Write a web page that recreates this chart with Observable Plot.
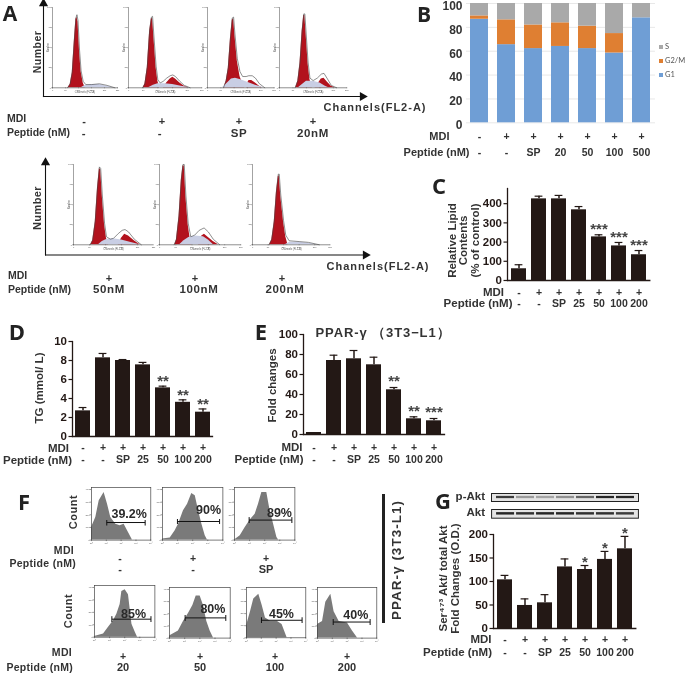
<!DOCTYPE html>
<html><head><meta charset="utf-8">
<script src="https://cdn.jsdelivr.net/npm/d3@7"></script>
<script src="https://cdn.jsdelivr.net/npm/@observablehq/plot@0.6"></script>
<style>
html,body{margin:0;padding:0;background:#fff}
#root{position:relative;width:685px;height:673px;overflow:hidden;background:#fff;font-family:"Liberation Sans",Arial,sans-serif;color:#231f20;filter:blur(0.3px)}
#root svg{position:absolute;background:transparent}
.lb{position:absolute;white-space:pre;font-weight:bold;line-height:1}
</style></head><body><div id="root"></div>
<script>
// ---------- Panel B: stacked cell-cycle percentages
const cycleG1 = [86.8, 65.5, 62.2, 64, 62.2, 58.5, 88];
const cycleG2M = [2.8, 20.8, 19.8, 19.8, 18.8, 16.3, 0];
const cycleS = [10.4, 13.7, 18, 16.2, 19, 25.2, 12];
const cycleMdi = ["-", "+", "+", "+", "+", "+", "+"];
const cyclePep = ["-", "-", "SP", "20", "50", "100", "500"];
// ---------- Panels C, D, E, G
const mdiRow = ["-", "+", "+", "+", "+", "+", "+"];
const pepRow = ["-", "-", "SP", "25", "50", "100", "200"];
const lipid = [61, 425, 425, 368, 227, 180, 134];
const lipidErr = [82, 439, 443, 385, 238, 198, 156];
const lipidStars = ["", "", "", "", "***", "***", "***"];
const tg = [2.7, 8.28, 8.0, 7.54, 5.12, 3.6, 2.56];
const tgErr = [3.05, 8.74, 8.1, 7.8, 5.3, 3.86, 2.9];
const tgStars = ["", "", "", "", "**", "**", "**"];
const fold = [2, 74, 75.7, 69.7, 44.7, 15.7, 13.7];
const foldErr = [2, 79.3, 84, 77.3, 47, 17.7, 16];
const foldStars = ["", "", "", "", "**", "**", "***"];
const akt = [103.5, 49, 54.6, 131, 125.5, 147, 169.5];
const aktErr = [113, 63, 72, 148, 134, 164, 196];
const aktStars = ["", "", "", "", "*", "*", "*"];
const pAktBand = [0.8, 0.35, 0.3, 0.4, 0.6, 0.9, 0.9];
const aktBand = [0.9, 0.85, 0.9, 0.9, 0.85, 0.85, 0.8];
// ---------- Panel A: DNA histograms, [channel, count]
const a1G1=[[60,0],[68,4],[76,18],[84,58],[90,85],[94,88],[98,82],[104,45],[110,20],[118,6],[126,0]];
const a1S=[[110,0],[125,3],[150,4],[180,4],[210,2],[235,0]];
const a1G2=[];
const a1All=[[58,0],[68,5],[76,20],[84,60],[90,87],[94,91],[98,84],[104,47],[110,21],[118,8],[128,4],[150,4],[180,5],[210,3],[240,0]];
const a2G1=[[50,0],[56,5],[64,25],[72,70],[78,86],[82,86],[87,60],[94,25],[100,8],[106,0]];
const a2S=[[68,0],[85,3],[100,5],[125,5],[150,4],[180,2],[210,0]];
const a2G2=[[119,0],[130,6],[142,11],[151,13],[160,11],[175,6],[190,2],[205,0]];
const a2All=[[48,0],[56,5],[64,26],[72,72],[78,88],[82,89],[87,62],[94,27],[100,10],[108,6],[118,8],[130,12],[142,15],[151,16],[160,14],[175,8],[190,3],[210,0]];
const a3G1=[[62,0],[70,8],[78,24],[86,60],[93,84],[98,86],[103,65],[112,33],[122,14],[132,5],[140,0]];
const a3S=[[56,0],[72,5],[90,11],[105,12],[125,10],[150,7],[180,3],[212,0]];
const a3G2=[[146,3],[156,9],[166,9],[180,6],[195,2],[205,0]];
const a3All=[[60,0],[70,9],[78,25],[86,62],[93,87],[98,88],[103,67],[112,36],[122,20],[132,14],[145,14],[155,15],[168,15],[180,12],[195,5],[215,0]];
const a4G1=[[60,0],[68,8],[76,30],[84,70],[90,90],[94,90],[99,65],[106,30],[113,10],[122,0]];
const a4S=[[70,0],[85,4],[100,8],[125,8],[150,6],[170,2],[183,0]];
const a4G2=[[132,0],[145,6],[155,11],[165,12],[178,7],[192,2],[207,0]];
const a4All=[[58,0],[68,9],[76,32],[84,72],[90,92],[94,92],[99,67],[106,32],[113,12],[125,9],[140,12],[155,17],[165,18],[178,11],[192,3],[212,0]];
const a5G1=[[54,0],[60,5],[68,28],[75,70],[81,95],[85,93],[90,60],[97,25],[103,8],[110,0]];
const a5S=[[78,0],[90,4],[105,7],[125,7.5],[150,6],[180,3],[208,0]];
const a5G2=[[140,0],[150,8],[160,13],[172,11],[190,5],[208,0]];
const a5All=[[52,0],[60,6],[68,30],[75,72],[81,97],[85,95],[90,62],[97,27],[103,10],[115,7],[125,8],[140,14],[152,18],[161,19],[172,16],[190,7],[212,0]];
const a6G1=[[47,0],[52,6],[60,35],[67,80],[72,98],[76,98],[81,60],[88,25],[94,8],[100,0]];
const a6S=[[62,0],[75,5],[90,9],[110,11],[135,10],[150,6],[166,0]];
const a6G2=[[120,2],[130,11],[138,13],[150,9],[165,4],[181,0]];
const a6All=[[45,0],[52,7],[60,37],[67,82],[72,100],[76,100],[81,62],[88,27],[96,10],[108,12],[122,18],[137,21],[150,16],[165,7],[185,0]];
const a7G1=[[55,0],[62,6],[70,28],[77,65],[83,85],[86,86],[91,60],[100,28],[107,10],[114,0]];
const a7S=[[105,0],[120,3],[150,3],[180,2],[210,0]];
const a7G2=[];
const a7All=[[53,0],[62,7],[70,30],[77,67],[83,88],[86,88],[91,62],[100,30],[107,12],[118,5],[150,4],[180,3],[215,0]];
// ---------- Panel F: flow cytometry, [log decade, count]
const f1=[[0,100],[.29,179],[.52,311],[.85,376],[1.08,284],[1.3,179],[1.64,126],[1.93,113],[2.2,126],[2.43,74],[2.76,0]];
const f2=[[0,8],[.51,16],[.84,74],[1.06,126],[1.39,232],[1.66,284],[1.94,368],[2.17,350],[2.39,232],[2.61,126],[2.83,34],[2.98,0]];
const f3=[[0,0],[.38,34],[.71,100],[1.04,158],[1.37,205],[1.59,284],[1.81,376],[2.14,376],[2.36,232],[2.59,126],[2.81,21],[2.92,0]];
const f4=[[0,5],[.6,26],[.93,79],[1.26,132],[1.48,184],[1.7,263],[1.81,368],[2.03,382],[2.25,342],[2.48,105],[2.7,39],[2.85,0]];
const f5=[[0,18],[.59,58],[.92,137],[1.25,203],[1.54,268],[1.76,347],[2.02,347],[2.24,268],[2.46,137],[2.68,58],[2.9,0]];
const f6=[[0,97],[.27,216],[.49,321],[.83,361],[1.06,268],[1.28,163],[1.62,137],[2.07,137],[2.4,111],[2.74,0]];
const f7=[[0,111],[.34,137],[.56,295],[.9,361],[1.12,216],[1.46,137],[2.02,124],[2.36,58],[2.7,0]];
const flowPct=["39.2%","90%","89%","85%","80%","45%","40%"];
const gateFrom=[1.03,.99,.97,1.15,1.03,1.01,1.06];
const gateTo=[3.62,3.78,3.8,3.74,3.71,3.75,3.55];
const gateLevel=[139,147,158,145,166,145,132];
const pctAtX=[2.54,3.05,2.98,2.59,2.86,2.36,2.58];
const pctAtY=[205,237,218,189,237,197,189];

const INK="#231815";
const FONT='"Liberation Sans",Arial,sans-serif';
const root=document.getElementById("root");
function place(svg,left,top){svg.style.left=left+"px";svg.style.top=top+"px";root.appendChild(svg);}
function label(text,x,y,o={}){
  const d=document.createElement("div");d.className="lb";d.textContent=text;
  const a=o.anchor||"middle";const tx=a==="start"?"0":a==="end"?"-100%":"-50%";
  d.style.left=x+"px";d.style.top=y+"px";
  d.style.transform=`translate(${tx},-50%)`+(o.rotate?` rotate(${o.rotate}deg)`:"");
  d.style.fontSize=(o.size||11)+"px";
  if(o.spacing)d.style.letterSpacing=o.spacing+"px";
  if(o.color)d.style.color=o.color;
  if(o.font)d.style.fontFamily=o.font;
  if(o.weight)d.style.fontWeight=o.weight;
  root.appendChild(d);
}
const rowValue={frameAnchor:"bottom",lineAnchor:"middle",fontSize:10.5,fontWeight:"bold",fill:"#333"};
const rowName={frameAnchor:"bottom-left",lineAnchor:"middle",textAnchor:"end",fontSize:11.5,fontWeight:"bold",fill:"#333"};

// Bar chart with rows of MDI / Peptide labels below
function barPanel(c){
  const f=c.frame,ml=80,mr=8,mt=14,mb=40;
  const idx=d3.range(c.values.length);
  const svg=Plot.plot({
    width:f.r-f.l+ml+mr,height:f.b-f.t+mt+mb,marginLeft:ml,marginRight:mr,marginTop:mt,marginBottom:mb,
    style:{fontFamily:FONT,background:"transparent",color:INK,overflow:"visible"},
    x:{type:"band",domain:idx,paddingInner:.27,paddingOuter:c.po,axis:null},
    y:{domain:[0,c.top],axis:null},
    marks:[
      Plot.barY(idx,{x:i=>i,y:i=>c.values[i],fill:INK}),
      Plot.ruleX(idx,{x:i=>i,y1:i=>c.values[i],y2:i=>c.errs[i],stroke:INK,strokeWidth:1.5}),
      Plot.tickY(idx.filter(i=>c.errs[i]>c.values[i]),{x:i=>i,y:i=>c.errs[i],stroke:INK,strokeWidth:1.2,insetLeft:3.6,insetRight:3.6}),
      Plot.text(idx,{x:i=>i,y:i=>c.errs[i],text:i=>c.stars[i],dy:c.starDy,fontSize:15,fontWeight:"bold",fill:"#444"}),
      Plot.frame({anchor:"left",stroke:INK,strokeWidth:1.3}),
      Plot.frame({anchor:"bottom",stroke:INK,strokeWidth:1.3}),
      Plot.axisY({ticks:c.ticks,tickSize:3.5,tickPadding:2,fontSize:11.5,fontWeight:"bold",stroke:INK,strokeWidth:1.2,label:null,fill:INK}),
      Plot.text(idx,{x:i=>i,text:i=>mdiRow[i],dy:c.row1,...rowValue}),
      Plot.text(idx,{x:i=>i,text:i=>pepRow[i],dy:c.row2,...rowValue}),
      Plot.text(["MDI"],{text:d=>d,dx:c.mdiDx,dy:c.row1,...rowName}),
      Plot.text(["Peptide (nM)"],{text:d=>d,dx:c.pepDx,dy:c.row2,...rowName}),
      Plot.text([c.title],{text:d=>d,frameAnchor:"left",textAnchor:"middle",lineAnchor:"middle",rotate:-90,dx:c.titleDx,dy:c.titleDy,fontSize:c.titleSize||11.5,fontWeight:"bold",lineHeight:c.titleLh||1,fill:"#333"})
    ]});
  place(svg,f.l-ml,f.t-mt);
}
// Panel B
(function(){
  const f={l:466,r:655,t:2.7,b:122},ml=70,mr=6,mt=3,mb=36;
  const idx=d3.range(cycleG1.length);
  const rows=idx.flatMap(i=>[
    {i,k:"G1",v:cycleG1[i]},{i,k:"G2/M",v:cycleG2M[i]},{i,k:"S",v:cycleS[i]}]);
  const svg=Plot.plot({
    width:f.r-f.l+ml+mr,height:f.b-f.t+mt+mb,marginLeft:ml,marginRight:mr,marginTop:mt,marginBottom:mb,
    style:{fontFamily:FONT,background:"transparent",color:INK},
    x:{type:"band",domain:idx,paddingInner:.33,paddingOuter:.1,axis:null},
    y:{domain:[0,100],axis:null},
    color:{domain:["G1","G2/M","S"],range:["#6f9ed5","#df7f32","#a9a9a9"]},
    marks:[
      Plot.gridY([0,20,40,60,80,100],{stroke:"#e8e8e8",strokeOpacity:1}),
      Plot.barY(rows,{x:"i",y:"v",fill:"k",order:["G1","G2/M","S"]}),
      Plot.axisY({ticks:[0,20,40,60,80,100],tickSize:0,tickPadding:4,dy:2.5,fontSize:12,fontWeight:"bold",label:null,fill:"#333"}),
      Plot.text(idx,{x:i=>i,text:i=>cycleMdi[i],dy:14,...rowValue}),
      Plot.text(idx,{x:i=>i,text:i=>cyclePep[i],dy:30,...rowValue}),
      Plot.text(["MDI"],{text:d=>d,dx:-17,dy:14,...rowName,fontSize:11}),
      Plot.text(["Peptide (nM)"],{text:d=>d,dx:3,dy:30,...rowName,fontSize:11})
    ]});
  place(svg,f.l-ml,f.t-mt);
  [["S","#a9a9a9",47],["G2/M","#df7f32",61],["G1","#6f9ed5",75]].forEach(([t,col,y])=>{
    const s=document.createElement("div");
    s.style.cssText=`position:absolute;left:659px;top:${y-2}px;width:4px;height:4px;background:${col}`;
    root.appendChild(s);
    label(t,665,y,{anchor:"start",size:7.5,weight:"normal",color:"#555",font:'Lato,sans-serif'});
  });
})();

barPanel({frame:{l:506.7,r:649,t:188,b:280},values:lipid,errs:lipidErr,stars:lipidStars,top:479,ticks:[0,100,200,300,400],po:.13,
  starDy:-5.5,row1:12,row2:23,mdiDx:-3.5,pepDx:5,title:"Relative Lipid\nContents\n(% of control)",titleDx:-43.7,titleDy:6,titleSize:11.5,titleLh:1});
barPanel({frame:{l:71.7,r:211.7,t:340.7,b:435.7},values:tg,errs:tgErr,stars:tgStars,top:10,ticks:[0,2,4,6,8,10],po:.13,
  starDy:-5,row1:11.5,row2:23.5,mdiDx:-3.5,pepDx:-.5,title:"TG (mmol/ L)",titleDx:-32.7,titleDy:-1,titleSize:11.5});
barPanel({frame:{l:303,r:444,t:334,b:434},values:fold,errs:foldErr,stars:foldStars,top:100,ticks:[0,20,40,60,80,100],po:.13,
  starDy:-6,row1:13,row2:25,mdiDx:-1,pepDx:0,title:"Fold changes",titleDx:-31,titleDy:1,titleSize:11.5});
barPanel({frame:{l:492.7,r:635,t:534,b:628},values:akt,errs:aktErr,stars:aktStars,top:200,ticks:[0,50,100,150,200],po:.08,
  starDy:-3,row1:11,row2:24,mdiDx:-2,pepDx:-1.5,title:"Ser\u2074\u2077\u00B3 Akt/ total Akt\nFold Changes (O.D.)",titleDx:-44.7,titleDy:-3,titleSize:11.5,titleLh:1.07});

// Panel E title
label("PPAR-\u03B3 \uFF083T3\u2212L1\uFF09",383,332,{size:13,spacing:.9,color:"#333"});

// Blots in panel G
function blot(vals,t,b){
  const f={l:491,r:638,t,b};
  const lanes=d3.range(vals.length);
  const svg=Plot.plot({width:f.r-f.l+2,height:f.b-f.t+2,marginLeft:1,marginRight:1,marginTop:1,marginBottom:1,
    style:{background:"transparent"},
    x:{type:"band",domain:lanes,padding:.12,axis:null},y:{domain:[0,1],axis:null},
    marks:[
      Plot.frame({fill:"#e4e4e4",stroke:null}),
      Plot.barY(lanes,{x:i=>i,y1:.36,y2:.64,fill:"#111",fillOpacity:i=>vals[i],imageFilter:"blur(0.6px)"}),
      Plot.frame({stroke:"#222",strokeWidth:1})
    ]});
  place(svg,f.l-1,f.t-1);
}
blot(pAktBand,492.7,500.7);
blot(aktBand,509,517.7);
label("p-Akt",485,497,{anchor:"end",size:11.5,color:"#333"});
label("Akt",485,513,{anchor:"end",size:11.5,color:"#333"});

// Panel A histograms
function hist(l,r,t,b,g1,s,g2,all){
  const mg=6;
  const svg=Plot.plot({width:r-l+mg*2,height:b-t+mg*2,marginLeft:mg,marginRight:mg,marginTop:mg,marginBottom:mg,
    style:{fontFamily:FONT,background:"transparent",overflow:"visible"},
    x:{domain:[0,250],axis:null},y:{domain:[0,100],axis:null},
    marks:[
      Plot.areaY(g1,{x:d=>d[0],y:d=>d[1],fill:"#b2121d"}),
      Plot.areaY(g2,{x:d=>d[0],y:d=>d[1],fill:"#b2121d"}),
      Plot.areaY(s,{x:d=>d[0],y:d=>d[1],fill:"#c9cee4"}),
      Plot.line(all,{x:d=>d[0],y:d=>d[1],stroke:"#444",strokeWidth:.6}),
      Plot.frame({anchor:"left",stroke:"#444",strokeWidth:.5,strokeDasharray:"1,1"}),
      Plot.frame({anchor:"bottom",stroke:"#444",strokeWidth:.6,strokeDasharray:"1,1"}),
      Plot.axisX({anchor:"bottom",ticks:[0,50,100,150,200,250],tickSize:1,tickPadding:.5,fontSize:2.2,label:null,stroke:"#444",strokeWidth:.4,fill:"#555"}),
      Plot.axisY({anchor:"left",ticks:[0,25,50,75,100],tickSize:1,tickPadding:.5,fontSize:2.2,label:null,stroke:"#444",strokeWidth:.4,fill:"#555"}),
      Plot.text(["Channels (FL2-A)"],{text:d=>d,frameAnchor:"bottom",dy:5,fontSize:2.6,fill:"#555"}),
      Plot.text(["Number"],{text:d=>d,frameAnchor:"left",textAnchor:"middle",rotate:-90,dx:-4,fontSize:2.6,fill:"#555"})
    ]});
  place(svg,l-mg,t-mg);
}
hist(52,117,7,87.3,a1G1,a1S,a1G2,a1All);
hist(128.3,201.7,7,87.3,a2G1,a2S,a2G2,a2All);
hist(206.7,273.3,7,87.3,a3G1,a3S,a3G2,a3All);
hist(279.3,346.7,7,87.3,a4G1,a4S,a4G2,a4All);
hist(73.3,153.3,164,244.3,a5G1,a5S,a5G2,a5All);
hist(159.3,240.7,164,244.3,a6G1,a6S,a6G2,a6All);
hist(252.3,330,164,244.3,a7G1,a7S,a7G2,a7All);

// Arrowed axes of panel A
function bigAxes(l,r,t,b){
  const mg=6;
  const svg=Plot.plot({width:r-l+mg*2,height:b-t+mg*2,marginLeft:mg,marginRight:mg,marginTop:mg,marginBottom:mg,
    style:{background:"transparent",overflow:"visible"},x:{domain:[0,1],axis:null},y:{domain:[0,1],axis:null},
    marks:[
      Plot.frame({anchor:"left",stroke:"#111",strokeWidth:1.1}),
      Plot.frame({anchor:"bottom",stroke:"#111",strokeWidth:1.1}),
      Plot.dot([0],{frameAnchor:"top-left",symbol:"triangle",r:3.4,fill:"#111"}),
      Plot.dot([0],{frameAnchor:"bottom-right",symbol:"triangle",rotate:90,r:3.4,fill:"#111"})
    ]});
  place(svg,l-mg,t-mg);
}
bigAxes(43,362,3,96);
bigAxes(45,365,162,254.5);
label("Number",37,52,{size:10.5,rotate:-90,spacing:.5,color:"#333"});
label("Number",37,208,{size:11,rotate:-90,spacing:.4,color:"#333"});
label("Channels(FL2-A)",375,107,{size:11,spacing:1,color:"#333"});
label("Channels(FL2-A)",378,266,{size:11,spacing:1,color:"#333"});
const rowTxt={size:10.5,anchor:"start",color:"#333"};
label("MDI",7,118,rowTxt);label("Peptide (nM)",7,132,rowTxt);
["-","+","+","+"].forEach((t,i)=>label(t,[84,162,239,313][i],121,{size:11,color:"#333"}));
["-","-","SP","20nM"].forEach((t,i)=>label(t,[84,160,239,313][i],133.5,{size:11.5,spacing:.6,color:"#333"}));
label("MDI",8,275,rowTxt);label("Peptide (nM)",8,289,rowTxt);
["+","+","+"].forEach((t,i)=>label(t,[109,195,282][i],277.5,{size:11,color:"#333"}));
["50nM","100nM","200nM"].forEach((t,i)=>label(t,[109,199,285][i],290,{size:11.5,spacing:.6,color:"#333"}));

// Panel F histograms
function flow(l,r,t,b,curve,k){
  const mg=5;
  const svg=Plot.plot({width:r-l+mg*2,height:b-t+mg*2,marginLeft:mg,marginRight:mg,marginTop:mg,marginBottom:mg,
    style:{fontFamily:FONT,background:"transparent",overflow:"visible"},
    x:{domain:[0,4],axis:null},y:{domain:[0,416],axis:null},
    marks:[
      Plot.areaY(curve,{x:d=>d[0],y:d=>d[1],fill:"#7a7a7a"}),
      Plot.frame({stroke:"#444",strokeWidth:.7}),
      Plot.axisX({anchor:"bottom",ticks:[0,1,2,3,4],tickFormat:d=>"10"+"\u2070\u00B9\u00B2\u00B3\u2074"[d],tickSize:1.5,tickPadding:.5,fontSize:2.4,label:null,stroke:"#333",strokeWidth:.5,fill:"#555"}),
      Plot.axisY({anchor:"left",ticks:[0,100,200,300,400],tickSize:1.5,tickPadding:.5,fontSize:2.4,label:null,stroke:"#333",strokeWidth:.5,fill:"#555"}),
      Plot.link([k],{x1:i=>gateFrom[i],x2:i=>gateTo[i],y1:i=>gateLevel[i],y2:i=>gateLevel[i],stroke:"#111",strokeWidth:1,markerStart:"tick",markerEnd:"tick"}),
      Plot.text([k],{x:i=>pctAtX[i],y:i=>pctAtY[i],text:i=>flowPct[i],fontSize:12.5,fontWeight:"bold",fill:"#2a2a2a"})
    ]});
  place(svg,l-mg,t-mg);
}
flow(90.7,150,486.7,539.3,f1,0);
flow(162.3,222.7,486.7,539.3,f2,1);
flow(234.3,294.7,486.7,539.3,f3,2);
flow(94.3,154.7,585,636.7,f4,3);
flow(169.3,230,586.7,637.3,f5,4);
flow(246,305.3,587,637.3,f6,5);
flow(316.7,376,586.7,637.3,f7,6);
label("Count",73,512,{size:11,rotate:-90,spacing:.5,color:"#333"});
label("Count",68,611,{size:11,rotate:-90,spacing:.5,color:"#333"});
label("MDI",74,550,{size:10.5,anchor:"end",spacing:.3,color:"#333"});
label("Peptide (nM)",76,563,{size:10.5,anchor:"end",spacing:.3,color:"#333"});
["-","+","+"].forEach((t,i)=>label(t,[120,193,266][i],557.5,{size:10.5,color:"#333"}));
["-","-","SP"].forEach((t,i)=>label(t,[120,193,266][i],569,{size:11,color:"#333"}));
label("MDI",72,652,{size:10.5,anchor:"end",spacing:.3,color:"#333"});
label("Peptide (nM)",73,667,{size:10.5,anchor:"end",spacing:.3,color:"#333"});
["+","+","+","+"].forEach((t,i)=>label(t,[123,200,275,347][i],655.5,{size:10.5,color:"#333"}));
["20","50","100","200"].forEach((t,i)=>label(t,[123,200,275,347][i],667,{size:11,color:"#333"}));
const bar=document.createElement("div");
bar.style.cssText="position:absolute;left:381.5px;top:494px;width:3px;height:129px;background:#222";
root.appendChild(bar);
label("PPAR-\u03B3 (3T3-L1)",397,560,{size:13.5,rotate:-90,spacing:1,color:"#333"});

// Panel letters
const L={size:22,color:"#222",font:'"Open Sans",sans-serif'};
label("A",10,13,{...L,size:21});label("B",424,14,{...L,size:21});label("C",439,185,L);
label("D",17,331,L);label("E",261,331,L);label("F",24,501,L);label("G",443,500,L);
</script></body></html>
